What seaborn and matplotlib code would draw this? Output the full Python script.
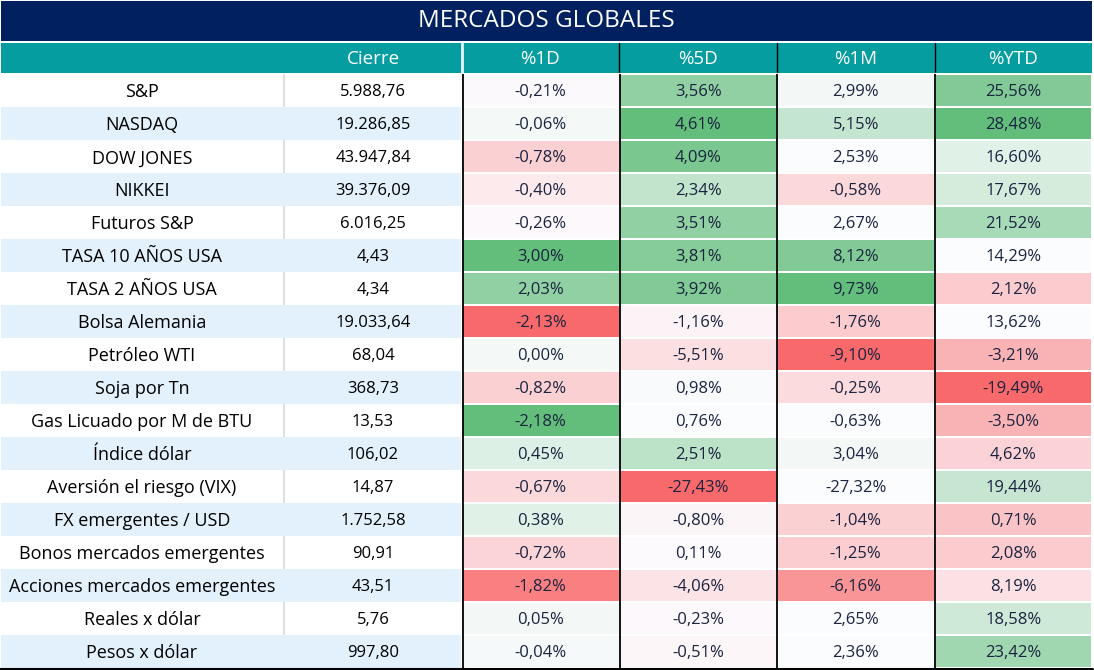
import numpy as np
import pandas as pd
import matplotlib
matplotlib.use("Agg")
import matplotlib.pyplot as plt
import seaborn as sns
from matplotlib.colors import LinearSegmentedColormap, ListedColormap
from matplotlib.lines import Line2D
import matplotlib.transforms as mtransforms

sns.set_theme(style="white")
plt.rcParams['font.family'] = ['Open Sans', 'DejaVu Sans']

# ---------------- data ----------------
title = "MERCADOS GLOBALES"
headers = ["Cierre", "%1D", "%5D", "%1M", "%YTD"]
names = ["S&P", "NASDAQ", "DOW JONES", "NIKKEI", "Futuros S&P", "TASA 10 AÑOS USA",
         "TASA 2 AÑOS USA", "Bolsa Alemania", "Petróleo WTI", "Soja por Tn",
         "Gas Licuado por M de BTU", "Índice dólar", "Aversión el riesgo (VIX)",
         "FX emergentes / USD", "Bonos mercados emergentes",
         "Acciones mercados emergentes", "Reales x dólar", "Pesos x dólar"]
cierre = [5988.76, 19286.85, 43947.84, 39376.09, 6016.25, 4.43, 4.34, 19033.64,
          68.04, 368.73, 13.53, 106.02, 14.87, 1752.58, 90.91, 43.51, 5.76, 997.80]
pct_1d = [-0.21, -0.06, -0.78, -0.40, -0.26, 3.00, 2.03, -2.13, 0.00, -0.82,
          -2.18, 0.45, -0.67, 0.38, -0.72, -1.82, 0.05, -0.04]
pct_5d = [3.56, 4.61, 4.09, 2.34, 3.51, 3.81, 3.92, -1.16, -5.51, 0.98,
          0.76, 2.51, -27.43, -0.80, 0.11, -4.06, -0.23, -0.51]
pct_1m = [2.99, 5.15, 2.53, -0.58, 2.67, 8.12, 9.73, -1.76, -9.10, -0.25,
          -0.63, 3.04, -27.32, -1.04, -1.25, -6.16, 2.65, 2.36]
pct_ytd = [25.56, 28.48, 16.60, 17.67, 21.52, 14.29, 2.12, 13.62, -3.21, -19.49,
           -3.50, 4.62, 19.44, 0.71, 2.08, 8.19, 18.58, 23.42]
# colour-scale shading (-1 = full red, 0 = white, 1 = full green)
shade_1d = [-0.02, 0.05, -0.30, -0.12, -0.03, 1.00, 0.70, -1.00, 0.05, -0.30,
            1.00, 0.20, -0.25, 0.18, -0.27, -0.85, 0.06, 0.04]
shade_5d = [0.70, 1.00, 0.85, 0.38, 0.70, 0.78, 0.80, -0.06, -0.20, 0.03,
            0.00, 0.42, -1.00, -0.05, -0.01, -0.17, -0.03, -0.04]
shade_1m = [0.06, 0.36, 0.00, -0.25, 0.00, 0.80, 1.00, -0.33, -1.00, -0.22,
            0.00, 0.06, 0.00, -0.30, -0.32, -0.70, 0.00, 0.00]
shade_ytd = [0.80, 1.00, 0.18, 0.25, 0.55, 0.00, -0.33, 0.00, -0.50, -1.00,
             -0.50, -0.28, 0.35, -0.38, -0.33, -0.18, 0.30, 0.60]


def fmt_num(v):
    s = f"{v:,.2f}"
    return s.replace(",", "X").replace(".", ",").replace("X", ".")


def fmt_pct(v):
    return f"{v:.2f}".replace(".", ",") + "%"


pct_cols = headers[1:]
pct_df = pd.DataFrame({"%1D": pct_1d, "%5D": pct_5d, "%1M": pct_1m, "%YTD": pct_ytd}, index=names)
shade_df = pd.DataFrame({"%1D": shade_1d, "%5D": shade_5d, "%1M": shade_1m, "%YTD": shade_ytd}, index=names)
annot = pct_df.map(fmt_pct).values

# ---------------- layout ----------------
W, H = 1094, 670
fig = plt.figure(figsize=(W / 100, H / 100), dpi=100)
fig.patch.set_facecolor("white")


def ax_px(x0, y0, x1, y1):
    return fig.add_axes([x0 / W, 1 - y1 / H, (x1 - x0) / W, (y1 - y0) / H])


NAVY = "#00205F"
TEAL = "#069DA1"
STRIPE = "#E3F1FC"
TXT = "#1A2340"
FS_NAME = 13
FS_NUM = 12
DY = 0.06  # small downward nudge of row text (in rows)

# title bar
ax_t = ax_px(1, 1, 1092, 41)
ax_t.set_facecolor(NAVY)
ax_t.set_xticks([]); ax_t.set_yticks([])
for s in ax_t.spines.values():
    s.set_visible(False)
ax_t.text(0.5, 0.5, title, color="white", fontsize=17.5, ha="center", va="center",
          transform=ax_t.transAxes)

# header row
x_edges = [1, 461, 619, 777, 935, 1092]
ax_h = ax_px(1, 43, 1092, 73)
ax_h.set_facecolor(TEAL)
ax_h.set_xlim(1, 1092); ax_h.set_ylim(0, 1)
ax_h.set_xticks([]); ax_h.set_yticks([])
for s in ax_h.spines.values():
    s.set_visible(False)
ax_h.axvline(461.5, color="#E8F4FA", lw=2)
for xe in x_edges[2:-1]:
    ax_h.axvline(xe, color="black", lw=1)
hdr_centers = [373, 540, 698, 856, 1013]
for xc, lab in zip(hdr_centers, headers):
    ax_h.text(xc, 0.47, lab, color="white", fontsize=13.5, ha="center", va="center")

# left block: names + cierre with striped rows
n = len(names)
ax_l = ax_px(1, 74, 461, 668)
stripe = np.array([[i % 2] for i in range(n)], dtype=float)
sns.heatmap(stripe, mask=(stripe == 0), cmap=ListedColormap([STRIPE]), cbar=False,
            xticklabels=False, yticklabels=False, ax=ax_l, linewidths=0)
ax_l.set_facecolor("white")
trans = mtransforms.blended_transform_factory(ax_l.transAxes, ax_l.transData)
bx = (284 - 1) / 460
ax_l.plot([bx, bx], [0, n], transform=trans, color="#D9D9D9", lw=1.2, zorder=0.5)
for i, (nm, cv) in enumerate(zip(names, cierre)):
    ax_l.text((142 - 1) / 460, i + 0.5 + DY, nm, transform=trans, ha="center", va="center",
              fontsize=FS_NAME, color="black")
    ax_l.text((373 - 1) / 460, i + 0.5 + DY, fmt_num(cv), transform=trans, ha="center",
              va="center", fontsize=FS_NUM, color="black")
ax_l.set_xticks([]); ax_l.set_yticks([])

# percentage block: heatmap
cmap = LinearSegmentedColormap.from_list("rwg", ["#F8696B", "#FCFCFF", "#63BE7B"])
ax_p = ax_px(462, 74, 1092, 668)
sns.heatmap(shade_df, cmap=cmap, vmin=-1, vmax=1, cbar=False, annot=annot, fmt="",
            annot_kws={"color": TXT, "fontsize": FS_NUM}, linewidths=1.3, linecolor="white",
            xticklabels=False, yticklabels=False, ax=ax_p)
for t in ax_p.texts:
    x, y = t.get_position()
    t.set_position((x, y + DY))
for xv in range(len(pct_cols)):
    ax_p.axvline(xv + (0.004 if xv == 0 else 0), color="black", lw=1.3)
ax_p.set_xticks([]); ax_p.set_yticks([])

# bottom border
fig.add_artist(Line2D([0, 1092 / W], [1 - 669 / H, 1 - 669 / H], color="black", lw=2.2,
                      transform=fig.transFigure))

fig.savefig("out.png", dpi=100, facecolor="white")
